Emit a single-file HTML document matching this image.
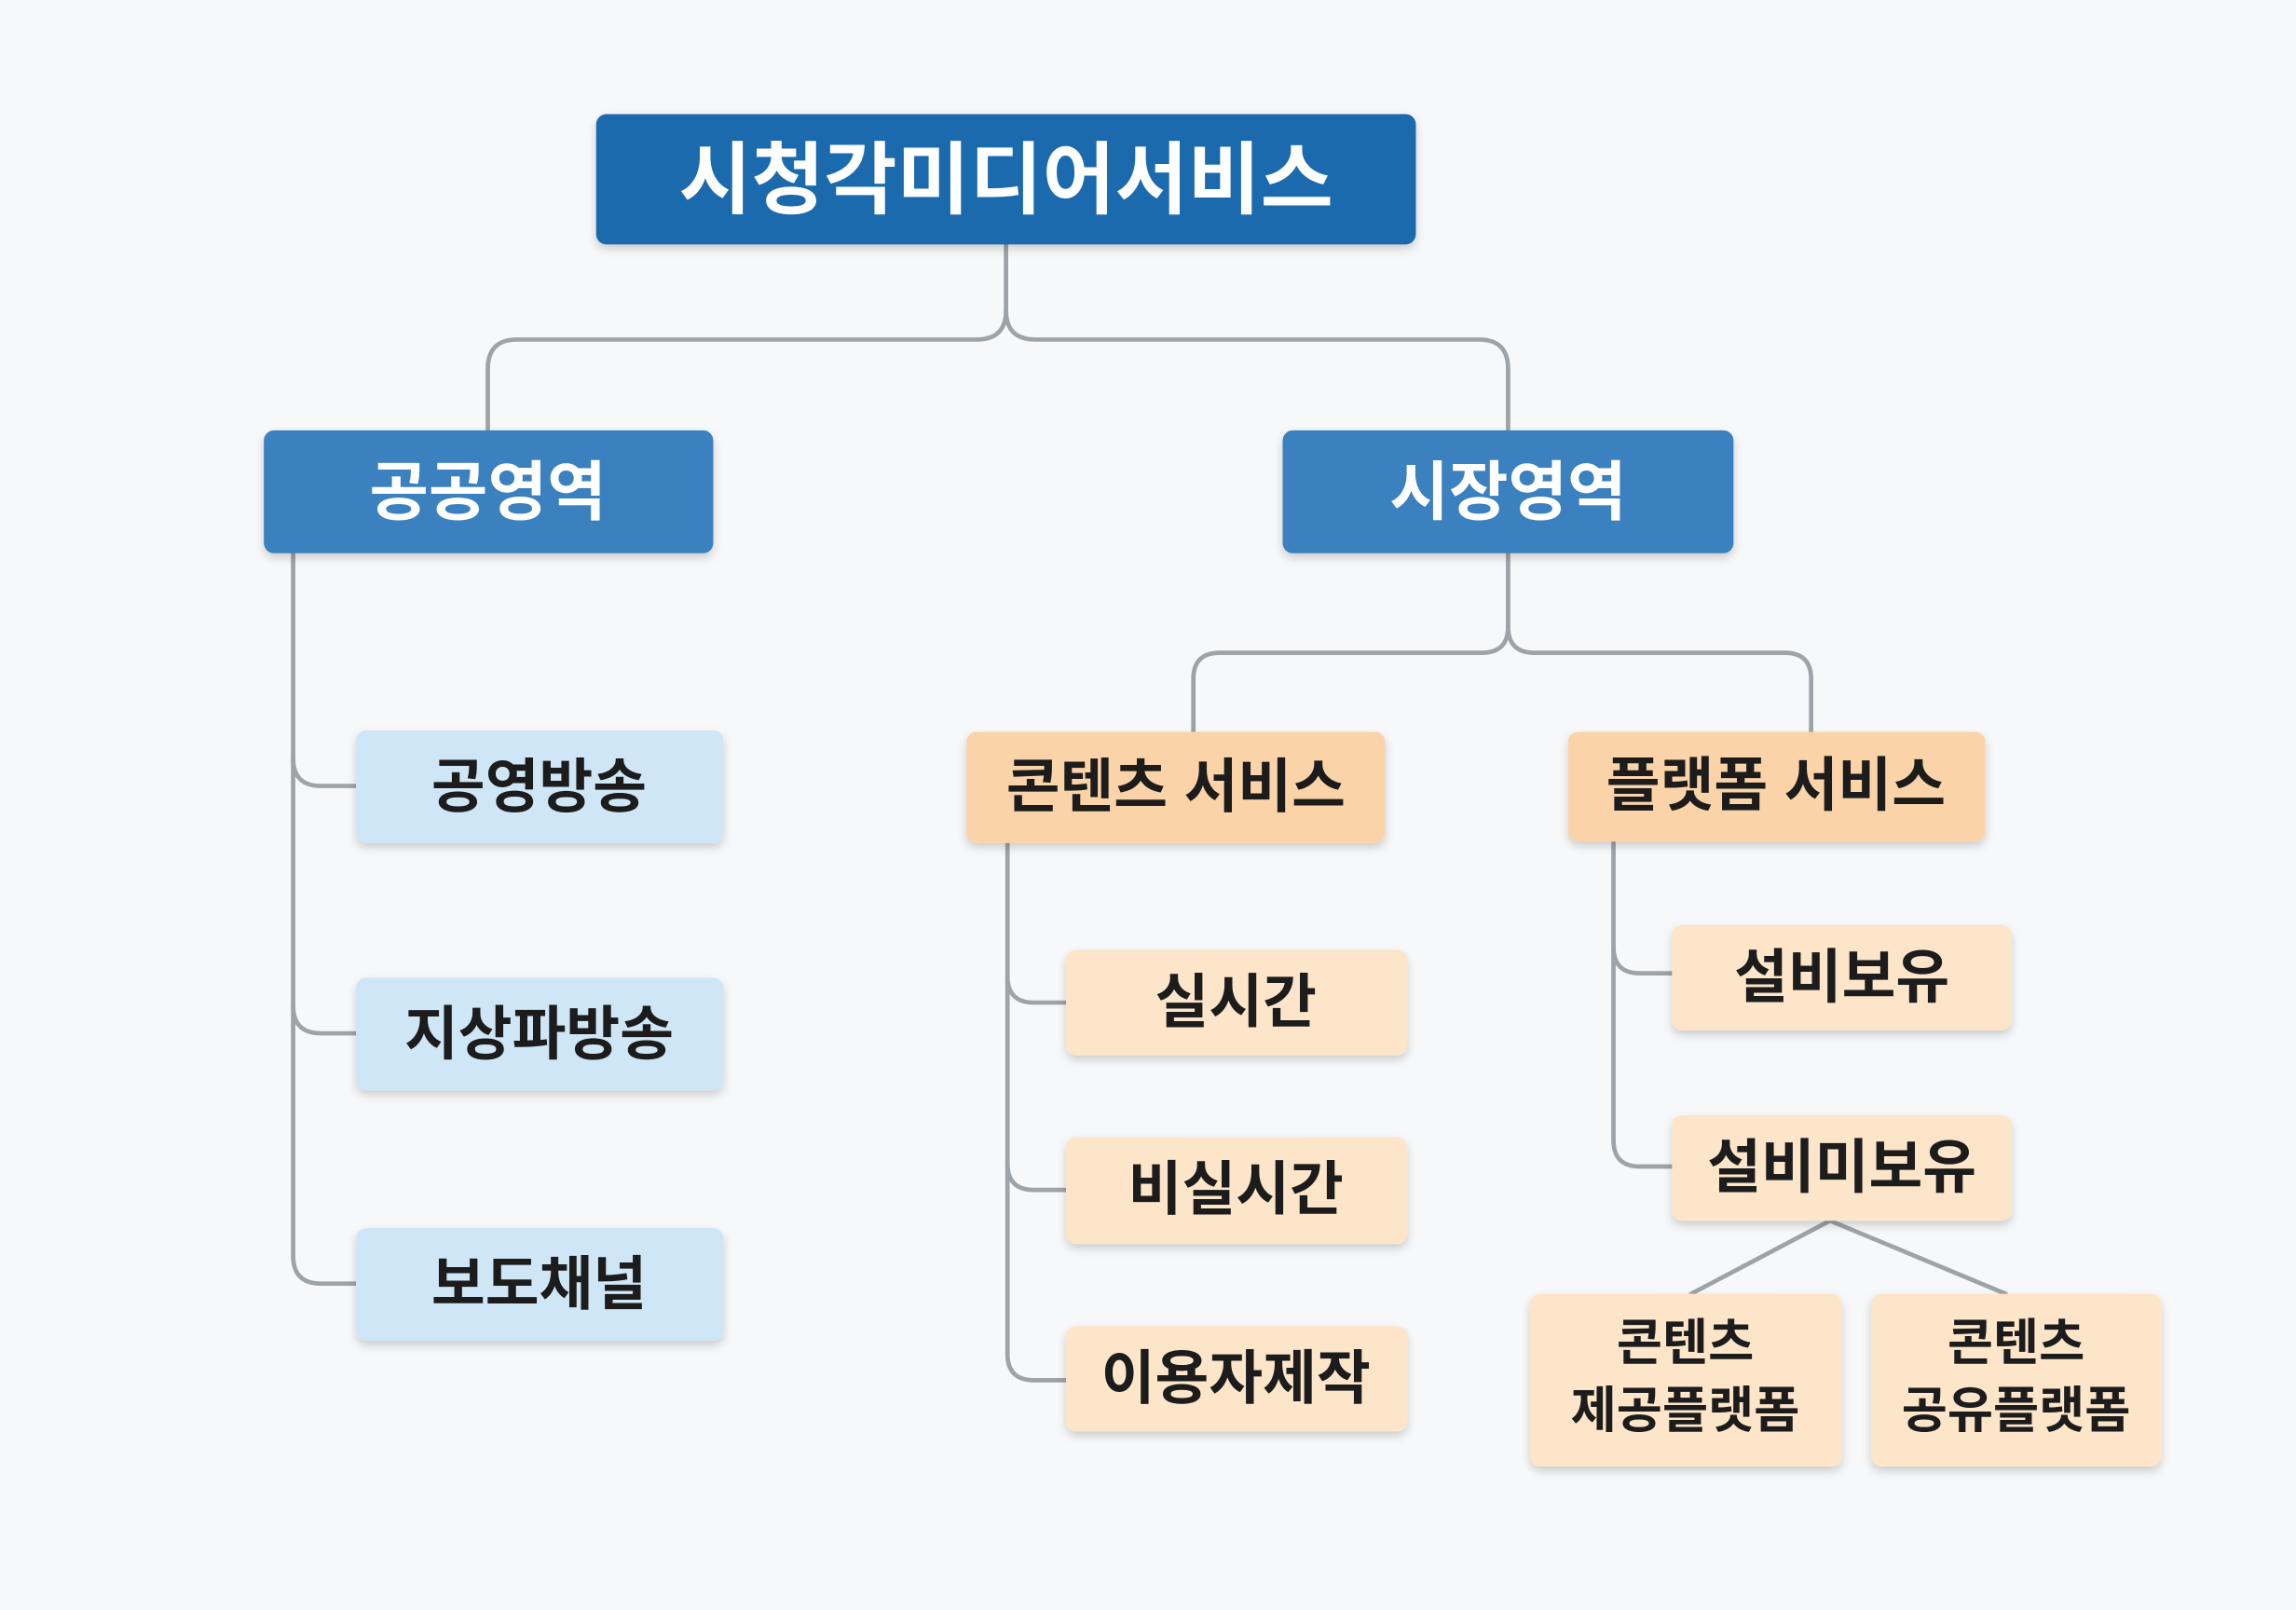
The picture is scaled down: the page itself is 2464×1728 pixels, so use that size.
<!DOCTYPE html>
<html><head><meta charset="utf-8"><style>
html,body{margin:0;padding:0;background:#f7f8f9;}
svg{display:block;}
text{font-family:"Liberation Sans","Noto Sans CJK KR",sans-serif;font-weight:bold;text-anchor:middle;dominant-baseline:central;}
</style></head><body>
<svg width="2464" height="1728" viewBox="0 0 1568 1100" xmlns="http://www.w3.org/2000/svg">
<defs>
<filter id="sh" x="-10%" y="-20%" width="120%" height="150%"><feDropShadow dx="0" dy="3" stdDeviation="3" flood-color="#000" flood-opacity="0.18"/></filter>
</defs>
<rect width="1568" height="1100" fill="#f7f8f9"/>
<g fill="none" stroke="#9ea3a8" stroke-width="3" stroke-linecap="round">
<path d="M687 167 V212 Q687 232 667 232 H353 Q333 232 333 252 V295"/>
<path d="M687 212 Q687 232 707 232 H1010 Q1030 232 1030 252 V295"/>
<path d="M200 378 V858 Q200 877 219 877 H243"/>
<path d="M200 518 Q200 537 219 537 H243"/>
<path d="M200 687 Q200 706 219 706 H243"/>
<path d="M1030 378 V428 Q1030 446 1012 446 H833 Q815 446 815 464 V500"/>
<path d="M1030 428 Q1030 446 1048 446 H1219 Q1237 446 1237 464 V500"/>
<path d="M688 576 V925 Q688 943 706 943 H728"/>
<path d="M688 667 Q688 685 706 685 H728"/>
<path d="M688 795 Q688 813 706 813 H728"/>
<path d="M1102 575 V779 Q1102 797 1120 797 H1142"/>
<path d="M1102 647 Q1102 665 1120 665 H1142"/>
<path d="M1250 834 L1155 884"/>
<path d="M1250 834 L1370 884"/>
</g>
<g filter="url(#sh)">
<rect x="407" y="78" width="560" height="89" rx="7" fill="#1f6aae"/>
<rect x="180" y="294" width="307" height="84" rx="7" fill="#3b80bf"/>
<rect x="876" y="294" width="308" height="84" rx="7" fill="#3b80bf"/>
<rect x="243" y="499" width="251" height="77" rx="7" fill="#cfe6f6"/>
<rect x="243" y="668" width="251" height="77" rx="7" fill="#cfe6f6"/>
<rect x="243" y="839" width="251" height="77" rx="7" fill="#cfe6f6"/>
<rect x="660" y="500" width="286" height="76" rx="7" fill="#fbd3a9"/>
<rect x="1071" y="500" width="285" height="75" rx="7" fill="#fbd3a9"/>
<rect x="728" y="649" width="233" height="72" rx="7" fill="#fde5c9"/>
<rect x="728" y="777" width="233" height="73" rx="7" fill="#fde5c9"/>
<rect x="728" y="906" width="233" height="72" rx="7" fill="#fde5c9"/>
<rect x="1142" y="632" width="232" height="72" rx="7" fill="#fde5c9"/>
<rect x="1142" y="762" width="232" height="72" rx="7" fill="#fde5c9"/>
<rect x="1045" y="884" width="213" height="118" rx="7" fill="#fde5c9"/>
<rect x="1278" y="884" width="198" height="118" rx="7" fill="#fde5c9"/>
</g>
<text x="687" y="123" font-size="54" fill="#fff">시청각미디어서비스</text>
<text x="333" y="336" font-size="44" fill="#fff">공공영역</text>
<text x="1030" y="336" font-size="44" fill="#fff">시장영역</text>
<g fill="#1c1c1c" font-size="40">
<text x="368" y="538">공영방송</text>
<text x="368" y="707">지상파방송</text>
<text x="368" y="878">보도채널</text>
<text x="803" y="538">콘텐츠 서비스</text>
<text x="1213" y="537">플랫폼 서비스</text>
<text x="844" y="685">실시간</text>
<text x="844" y="813">비실시간</text>
<text x="844" y="942">이용자제작</text>
<text x="1258" y="668">설비보유</text>
<text x="1258" y="798">설비미보유</text>
</g>
<g fill="#1c1c1c" font-size="34">
<text x="1151" y="918">콘텐츠</text>
<text x="1151" y="964">제공플랫폼</text>
<text x="1377" y="918">콘텐츠</text>
<text x="1377" y="964">공유플랫폼</text>
</g>
</svg>
</body></html>
